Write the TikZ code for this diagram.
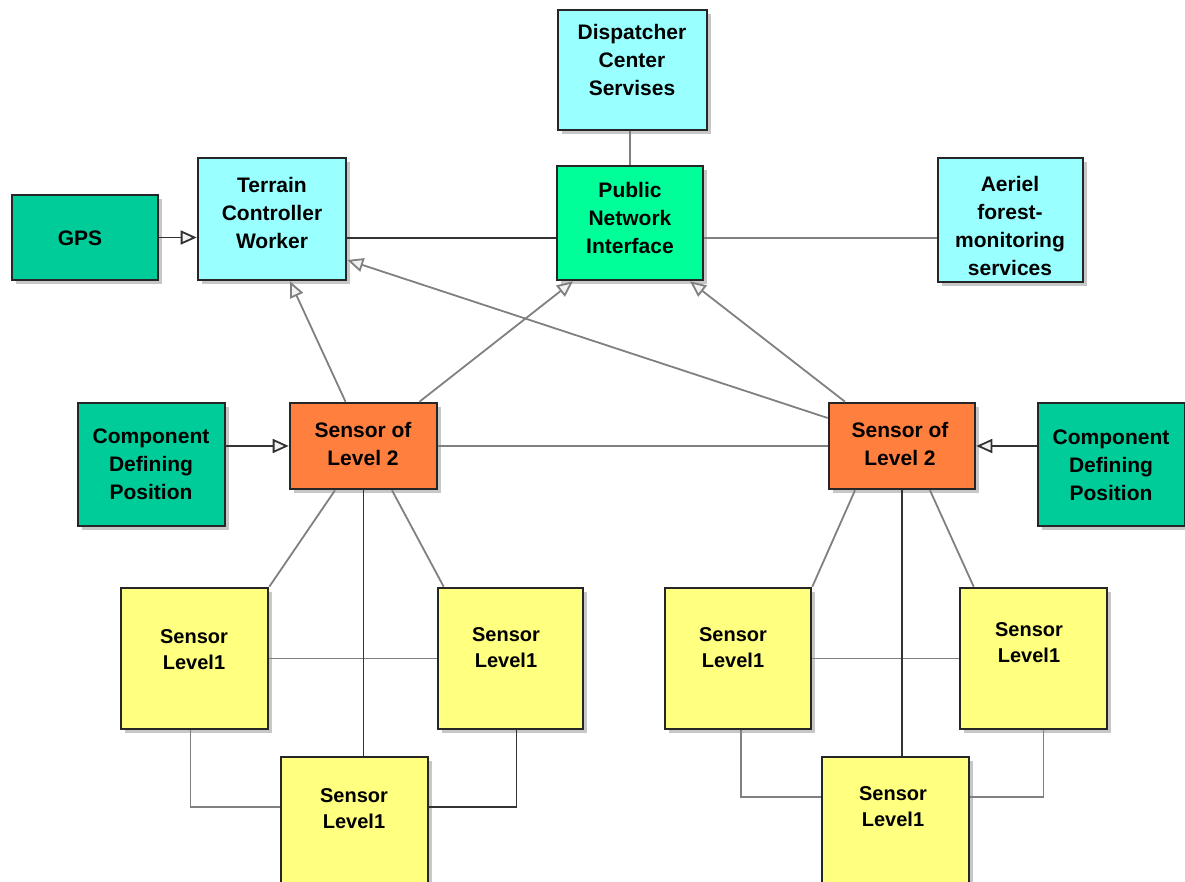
\documentclass[tikz,border=0pt]{standalone}
\usepackage{fontspec}
\setmainfont{Liberation Sans}
\usetikzlibrary{arrows.meta,shadows}

\definecolor{boxcyan}{HTML}{99FFFF}
\definecolor{boxteal}{HTML}{00CC99}
\definecolor{boxgreen}{HTML}{00FF99}
\definecolor{boxorange}{HTML}{FF7F3F}
\definecolor{boxyellow}{HTML}{FFFF80}

\begin{document}
\begin{tikzpicture}
  [x=0.5pt,y=-0.5pt,
   box/.style={draw=black!85,line width=1.3pt,inner sep=0pt,
     drop shadow={shadow xshift=2pt,shadow yshift=-2pt,fill=black!22,opacity=1}},
   txt/.style={font=\bfseries\fontsize{10.5}{14}\selectfont,align=center},
   txts/.style={font=\bfseries\fontsize{10}{13}\selectfont,align=center},
   link/.style={draw=black!50,line width=0.9pt},
   dlink/.style={draw=black!80,line width=0.9pt},
   isa/.style={link,-{Triangle[open,length=8pt,width=7pt,fill=black!5]}}]
  \useasboundingbox (0,0) rectangle (1185,882);

  % boxes
  \node[box,fill=boxcyan,minimum width=74.5pt,minimum height=60pt] (dcs) at (632.5,70) {};
  \node[box,fill=boxcyan,minimum width=74pt,minimum height=61pt] (tcw) at (272,219) {};
  \node[box,fill=boxteal,minimum width=73pt,minimum height=42.5pt] (gps) at (85,237.5) {};
  \node[box,fill=boxgreen,minimum width=73pt,minimum height=57pt] (pni) at (630,223) {};
  \node[box,fill=boxcyan,minimum width=72.5pt,minimum height=62pt] (afm) at (1010.5,220) {};
  \node[box,fill=boxteal,minimum width=73.5pt,minimum height=61.5pt] (cdpl) at (151.5,464.5) {};
  \node[box,fill=boxorange,minimum width=73.5pt,minimum height=43pt] (s2l) at (363.5,446) {};
  \node[box,fill=boxorange,minimum width=73pt,minimum height=43pt] (s2r) at (902,446) {};
  \node[box,fill=boxteal,minimum width=73.5pt,minimum height=61.5pt] (cdpr) at (1111.5,464.5) {};
  \node[box,fill=boxyellow,minimum width=73.5pt,minimum height=70.5pt] (l1a) at (194.5,658.5) {};
  \node[box,fill=boxyellow,minimum width=72.5pt,minimum height=70.5pt] (l1b) at (510.5,658.5) {};
  \node[box,fill=boxyellow,minimum width=73.5pt,minimum height=71.5pt] (l1c) at (354.5,828.5) {};
  \node[box,fill=boxyellow,minimum width=73pt,minimum height=70.5pt] (l1d) at (738,658.5) {};
  \node[box,fill=boxyellow,minimum width=73.5pt,minimum height=70.5pt] (l1e) at (1033.5,658.5) {};
  \node[box,fill=boxyellow,minimum width=73.5pt,minimum height=71.5pt] (l1f) at (895.5,828.5) {};

  % texts
  \node[txt] (dcs-t) at (632,60) {Dispatcher\\Center\\Servises};
  \node[txt] (tcw-t) at (272,213) {Terrain\\Controller\\Worker};
  \node[txt] (gps-t) at (80,238) {GPS};
  \node[txt] (pni-t) at (630,218) {Public\\Network\\Interface};
  \node[txt] (afm-t) at (1010,226) {Aeriel\\forest-\\monitoring\\services};
  \node[txt] (cdpl-t) at (151,464) {Component\\Defining\\Position};
  \node[txt] (s2l-t) at (363,444) {Sensor of\\Level 2};
  \node[txt] (s2r-t) at (900,444) {Sensor of\\Level 2};
  \node[txt] (cdpr-t) at (1111,465) {Component\\Defining\\Position};
  \node[txts] (l1a-t) at (194,650) {Sensor\\Level1};
  \node[txts] (l1b-t) at (506,648) {Sensor\\Level1};
  \node[txts] (l1c-t) at (354,809) {Sensor\\Level1};
  \node[txts] (l1d-t) at (733,648) {Sensor\\Level1};
  \node[txts] (l1e-t) at (1029,643) {Sensor\\Level1};
  \node[txts] (l1f-t) at (893,807) {Sensor\\Level1};

  % plain links
  \draw[link] (dcs.south -| pni.north) -- (pni.north);
  \draw[dlink] ([yshift=-9.5pt]tcw.east) -- ([yshift=-9.5pt]tcw.east -| pni.west);
  \draw[link] ([yshift=-7.5pt]pni.east) -- ([yshift=-7.5pt]pni.east -| afm.west);
  \draw[link] (s2l.east) -- (s2r.west);
  \foreach \from/\to in {l1a/l1b,l1d/l1e}
    \draw[link] (\from.east) -- (\to.west);
  \draw[dlink] (s2l.south) -- (s2l.south |- l1c.north);
  \draw[dlink] (s2r.south) -- (s2r.south |- l1f.north);
  \draw[link] ([xshift=-14.25pt]s2l.south) -- (l1a.north east);
  \draw[link] ([xshift=14.25pt]s2l.south) -- ([xshift=3.5pt]l1b.north west);
  \draw[link] ([xshift=-23.5pt]s2r.south) -- (l1d.north east);
  \draw[link] ([xshift=14pt]s2r.south) -- ([xshift=7.5pt]l1e.north west);
  \draw[link] ([xshift=-2pt]l1a.south) |- ([yshift=-25.5pt]l1c.north west);
  \draw[dlink] ([xshift=3pt]l1b.south) |- ([yshift=-25.5pt]l1c.north east);
  \draw[link] ([xshift=1.5pt]l1d.south) |- ([yshift=-20.5pt]l1f.north west);
  \draw[link] ([xshift=5pt]l1e.south) |- ([yshift=-20.5pt]l1f.north east);

  % arrows
  \draw[isa,draw=black!80] (gps.east) -- (gps.east -| tcw.west);
  \draw[isa,draw=black!80] (cdpl.east |- s2l.west) -- (s2l.west);
  \draw[isa,draw=black!80] (cdpr.west |- s2r.east) -- (s2r.east);
  \draw[isa] ([xshift=-9pt]s2l.north) -- ([xshift=9pt]tcw.south);
  \draw[isa] ([xshift=28pt]s2l.north) -- ([xshift=-28.5pt]pni.south);
  \draw[isa] ([xshift=-28.5pt]s2r.north) -- ([xshift=30pt]pni.south);
  \draw[isa] ([yshift=14pt]s2r.west) -- ([yshift=-20.5pt]tcw.east);
\end{tikzpicture}
\end{document}
